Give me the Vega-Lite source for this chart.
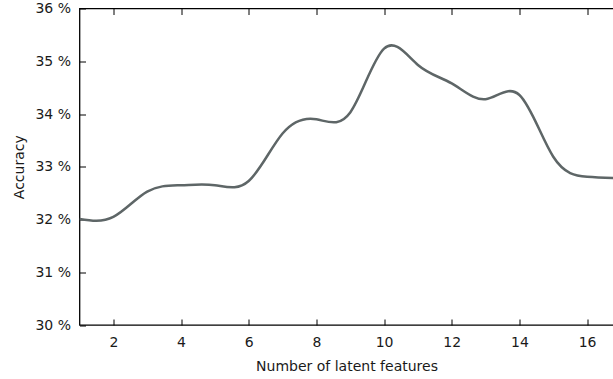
{
  "$schema": "https://vega.github.io/schema/vega-lite/v6.json",
  "autosize": {"type": "none"},
  "padding": {"left": 79.5, "top": 8.5, "right": 0, "bottom": 54},
  "width": 534,
  "height": 316.5,
  "config": {
    "font": "DejaVu Sans",
    "view": {"stroke": "#000000", "strokeWidth": 1.3},
    "axis": {
      "grid": false,
      "domain": false,
      "tickColor": "#000000",
      "tickWidth": 1,
      "labelFont": "DejaVu Sans",
      "titleFont": "DejaVu Sans",
      "labelFontSize": 14,
      "titleFontSize": 14,
      "labelColor": "#1a1a1a",
      "titleColor": "#1a1a1a",
      "titleFontWeight": "normal"
    }
  },
  "data": {
    "values": [
      {"k": 1, "acc": 32.01},
      {"k": 2, "acc": 32.05},
      {"k": 3, "acc": 32.53},
      {"k": 4, "acc": 32.65},
      {"k": 5, "acc": 32.65},
      {"k": 6, "acc": 32.73},
      {"k": 7, "acc": 33.63},
      {"k": 8, "acc": 33.9},
      {"k": 9, "acc": 34.03},
      {"k": 10, "acc": 35.24},
      {"k": 11, "acc": 34.93},
      {"k": 12, "acc": 34.58},
      {"k": 13, "acc": 34.28},
      {"k": 14, "acc": 34.36},
      {"k": 15, "acc": 33.19},
      {"k": 16, "acc": 32.81},
      {"k": 17, "acc": 32.78}
    ]
  },
  "layer": [
    {
      "mark": {"type": "line", "interpolate": "natural", "color": "#5e6667", "strokeWidth": 2.5, "clip": true},
      "encoding": {
        "x": {
          "field": "k", "type": "quantitative",
          "scale": {"domain": [1, 16.78], "nice": false, "zero": false},
          "axis": {"orient": "bottom", "values": [2, 4, 6, 8, 10, 12, 14, 16], "tickSize": -6, "labelPadding": 16, "title": "Number of latent features", "titlePadding": 10}
        },
        "y": {
          "field": "acc", "type": "quantitative",
          "scale": {"domain": [30, 36], "nice": false, "zero": false},
          "axis": {"values": [30, 31, 32, 33, 34, 35, 36], "tickSize": -6, "labelPadding": 15, "labelExpr": "datum.value + ' %'", "title": "Accuracy", "titlePadding": 8}
        }
      }
    },
    {
      "mark": {"type": "line", "opacity": 0},
      "encoding": {
        "x": {
          "field": "k", "type": "quantitative",
          "axis": {"orient": "top", "values": [2, 4, 6, 8, 10, 12, 14, 16], "tickSize": -6, "labels": false, "title": null}
        },
        "y": {"field": "acc", "type": "quantitative"}
      }
    }
  ],
  "resolve": {"axis": {"x": "independent"}}
}
